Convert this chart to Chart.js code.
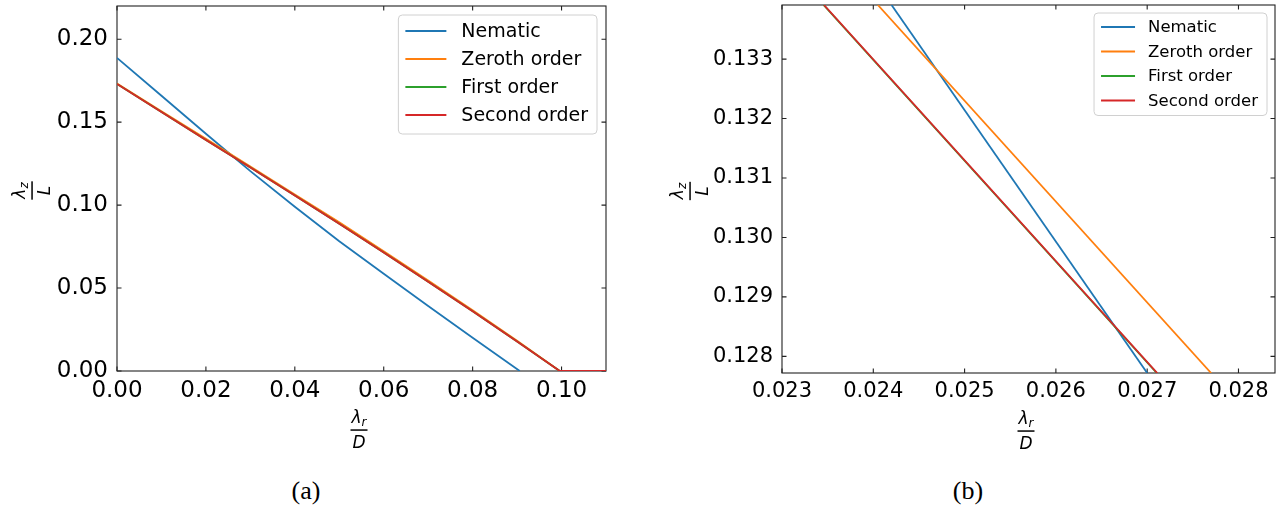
<!DOCTYPE html>
<html>
<head>
<meta charset="UTF-8">
<title>Nematic vs order approximations</title>
<script src="https://cdn.jsdelivr.net/npm/chart.js"></script>
<style>
  body { margin: 0; background: #fff; width: 1281px; height: 510px; position: relative; overflow: hidden; }
  canvas { position: absolute; top: 0; }
  #chartA { left: 0; }
  #chartB { left: 640px; }
  .cap { position: absolute; top: 476px; font-family: "Liberation Serif", serif; font-size: 26px; transform: translateX(-50%); }
</style>
</head>
<body>
<canvas id="chartA" width="640" height="470"></canvas>
<canvas id="chartB" width="641" height="470"></canvas>
<div class="cap" style="left:306px">(a)</div>
<div class="cap" style="left:968px">(b)</div>

<script>
const seriesNames = ['Nematic', 'Zeroth order', 'First order', 'Second order'];
const seriesColors = ['#1f77b4', '#ff7f0e', '#2ca02c', '#d62728'];

// (a) full range
const nematicXA = [0, 0.01, 0.02, 0.03, 0.04, 0.05, 0.06, 0.07, 0.08, 0.0906];
const nematicYA = [0.1887, 0.1659, 0.1430, 0.1205, 0.0990, 0.0782, 0.0586, 0.0392, 0.0201, 0];
const orderXA = [0, 0.01, 0.02, 0.03, 0.04, 0.05, 0.06, 0.07, 0.08, 0.09, 0.0996, 0.11];
const zerothYA = [0.1733, 0.1566, 0.1400, 0.1233, 0.1064, 0.0896, 0.0722, 0.0545, 0.0366, 0.0182, 0, 0];
const firstYA  = [0.1730, 0.1561, 0.1393, 0.1226, 0.1058, 0.0888, 0.0714, 0.0538, 0.0360, 0.0178, 0, 0];
const secondYA = [0.1730, 0.1561, 0.1393, 0.1226, 0.1058, 0.0888, 0.0714, 0.0538, 0.0360, 0.0178, 0, 0];
const xTicksA = [0, 0.02, 0.04, 0.06, 0.08, 0.10];
const yTicksA = [0, 0.05, 0.10, 0.15, 0.20];

// (b) zoom near the crossing
const nematicXB = [0.02420, 0.02700];
const nematicYB = [0.13391, 0.12772];
const zerothXB = [0.02405, 0.02770];
const zerothYB = [0.13391, 0.12772];
const firstXB  = [0.023455, 0.027105];
const firstYB  = [0.13391, 0.12772];
const secondXB = [0.02346, 0.02711];
const secondYB = [0.13391, 0.12772];
const xTicksB = [0.023, 0.024, 0.025, 0.026, 0.027, 0.028];
const yTicksB = [0.128, 0.129, 0.130, 0.131, 0.132, 0.133];

const FONT = '"DejaVu Sans", sans-serif';

function pts(xs, ys) { return xs.map((x, i) => ({ x: x, y: ys[i] })); }

function drawFrac(ctx, cx, cy, sym, sub, den, fs) {
  const big = 'italic ' + fs + 'px ' + FONT;
  const small = 'italic ' + Math.round(fs * 0.68) + 'px ' + FONT;
  ctx.font = big;
  const wSym = ctx.measureText(sym).width;
  const wDen = ctx.measureText(den).width;
  ctx.font = small;
  const wSub = ctx.measureText(sub).width;
  const wNum = wSym + wSub;
  const barW = Math.max(wNum, wDen) + 2;
  ctx.fillStyle = '#000';
  ctx.textAlign = 'left';
  ctx.textBaseline = 'alphabetic';
  ctx.font = big;
  ctx.fillText(sym, cx - wNum / 2, cy - 7);
  ctx.font = small;
  ctx.fillText(sub, cx - wNum / 2 + wSym, cy - 4);
  ctx.fillRect(cx - barW / 2, cy - 0.7, barW, 1.5);
  ctx.font = big;
  ctx.fillText(den, cx - wDen / 2, cy + 18);
}

const framePlugin = {
  id: 'frame',
  beforeDatasetsDraw(chart, args, o) {
    const { ctx, chartArea: a, scales: { x, y } } = chart;
    ctx.save();
    ctx.strokeStyle = '#222';
    ctx.lineWidth = 1.1;
    ctx.strokeRect(a.left, a.top, a.right - a.left, a.bottom - a.top);
    ctx.beginPath();
    x.ticks.forEach(t => {
      const p = x.getPixelForValue(t.value);
      ctx.moveTo(p, a.bottom); ctx.lineTo(p, a.bottom - o.tick);
      ctx.moveTo(p, a.top); ctx.lineTo(p, a.top + o.tick);
    });
    y.ticks.forEach(t => {
      const p = y.getPixelForValue(t.value);
      ctx.moveTo(a.left, p); ctx.lineTo(a.left + o.tick, p);
      ctx.moveTo(a.right, p); ctx.lineTo(a.right - o.tick, p);
    });
    ctx.stroke();
    ctx.restore();
  },
  afterDraw(chart, args, o) {
    const { ctx, chartArea: a } = chart;
    ctx.save();
    // legend box
    const L = o.legend;
    ctx.font = L.fs + 'px ' + FONT;
    const tw = Math.max(...chart.data.datasets.map(d => ctx.measureText(d.label).width));
    const w = 7 + L.line + L.gap + tw + 9;
    const h = L.padTop + 3 * L.row + L.padBot;
    const bx = a.right - L.margin - w, by = a.top + L.margin;
    ctx.globalAlpha = 0.8;
    ctx.fillStyle = '#fff';
    ctx.beginPath();
    ctx.roundRect(bx, by, w, h, 4);
    ctx.fill();
    ctx.globalAlpha = 1;
    ctx.strokeStyle = '#d0d0d0';
    ctx.lineWidth = 1;
    ctx.stroke();
    chart.data.datasets.forEach((d, i) => {
      const ry = by + L.padTop + i * L.row;
      ctx.strokeStyle = d.borderColor;
      ctx.lineWidth = 2;
      ctx.beginPath();
      ctx.moveTo(bx + 7, ry); ctx.lineTo(bx + 7 + L.line, ry);
      ctx.stroke();
      ctx.fillStyle = '#000';
      ctx.textBaseline = 'middle';
      ctx.textAlign = 'left';
      ctx.font = L.fs + 'px ' + FONT;
      ctx.fillText(d.label, bx + 7 + L.line + L.gap, ry + 1);
    });
    // axis titles
    drawFrac(ctx, (a.left + a.right) / 2 - 2.5, a.bottom + o.xTitleOff, 'λ', 'r', 'D', 17);
    ctx.translate(o.yTitleX, (a.top + a.bottom) / 2 + 2);
    ctx.rotate(-Math.PI / 2);
    drawFrac(ctx, 0, 0, 'λ', 'z', 'L', 17);
    ctx.restore();
  }
};

function makeChart(id, sets, xr, yr, xt, yt, digits, fs, yW, xH, pad, extra) {
  return new Chart(document.getElementById(id), {
    type: 'line',
    data: {
      datasets: sets.map((s, i) => ({
        label: seriesNames[i],
        data: s,
        borderColor: seriesColors[i],
        borderWidth: 1.8,
        pointRadius: 0,
        tension: 0,
        fill: false,
        order: 3 - i
      }))
    },
    options: {
      responsive: false,
      animation: false,
      layout: { padding: pad },
      plugins: { legend: { display: false }, tooltip: { enabled: false }, frame: extra },
      scales: {
        x: {
          type: 'linear', min: xr[0], max: xr[1],
          afterBuildTicks: s => { s.ticks = xt.map(v => ({ value: v })); },
          afterFit: s => { s.height = xH; s.paddingLeft = 0; s.paddingRight = 0; },
          grid: { display: false, drawTicks: false },
          border: { display: false },
          ticks: { autoSkip: false, maxRotation: 0, padding: 6, color: '#000',
                   font: { family: FONT, size: fs }, callback: v => Number(v).toFixed(digits) }
        },
        y: {
          type: 'linear', min: yr[0], max: yr[1],
          afterBuildTicks: s => { s.ticks = yt.map(v => ({ value: v })); },
          afterFit: s => { s.width = yW; s.paddingTop = 0; s.paddingBottom = 0; },
          grid: { display: false, drawTicks: false },
          border: { display: false },
          ticks: { autoSkip: false, padding: 9, color: '#000',
                   font: { family: FONT, size: fs }, callback: v => Number(v).toFixed(digits) }
        }
      }
    },
    plugins: [framePlugin]
  });
}

makeChart('chartA',
  [pts(nematicXA, nematicYA), pts(orderXA, zerothYA), pts(orderXA, firstYA), pts(orderXA, secondYA)],
  [0, 0.11], [0, 0.22], xTicksA, yTicksA, 2, 23, 117, 99,
  { left: 0, right: 34, top: 6, bottom: 0 },
  { tick: 4.5, xTitleOff: 59, yTitleX: 32,
    legend: { fs: 19, line: 41, gap: 15, row: 28, padTop: 16, padBot: 19, margin: 9 } });

makeChart('chartB',
  [pts(nematicXB, nematicYB), pts(zerothXB, zerothYB), pts(firstXB, firstYB), pts(secondXB, secondYB)],
  [0.023, 0.0284], [0.12772, 0.13391], xTicksB, yTicksB, 3, 21, 142, 97,
  { left: 0, right: 6, top: 5, bottom: 0 },
  { tick: 4.5, xTitleOff: 58, yTitleX: 50,
    legend: { fs: 16.5, line: 34, gap: 13, row: 24.5, padTop: 14, padBot: 15, margin: 8 } });
</script>
</body>
</html>
